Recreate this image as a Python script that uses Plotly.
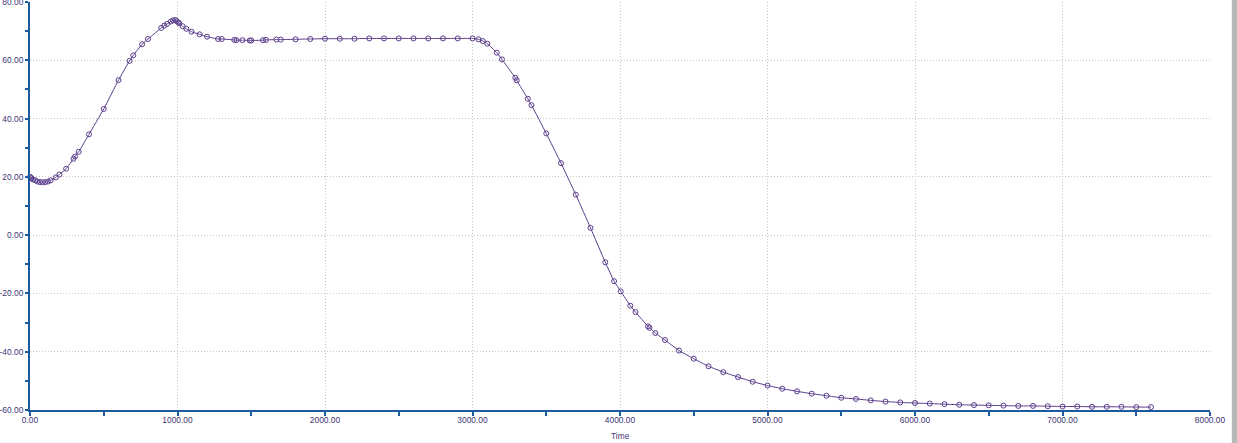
import plotly.graph_objects as go

time = [0, 5, 10, 20, 35, 50, 68, 86, 104, 122, 140, 175, 200, 245, 295, 305, 330, 400, 500, 600,
        675, 700, 760, 800, 890, 910, 930, 955, 970, 985, 995, 1005, 1012, 1035, 1060, 1095, 1150,
        1200, 1275, 1300, 1385, 1400, 1440, 1490, 1500, 1580, 1600, 1670, 1700, 1800, 1900, 2000,
        2100, 2200, 2300, 2400, 2500, 2600, 2700, 2800, 2900, 3000, 3040, 3070, 3100, 3165, 3200,
        3290, 3300, 3375, 3400, 3500, 3600, 3700, 3800, 3900, 3960, 4005, 4070, 4105, 4190, 4200,
        4240, 4305, 4400, 4500, 4600, 4700, 4800, 4900, 5000, 5100, 5200, 5300, 5400, 5500, 5600,
        5700, 5800, 5900, 6000, 6100, 6200, 6300, 6400, 6500, 6600, 6700, 6800, 6900, 7000, 7100,
        7200, 7300, 7400, 7500, 7600]
value = [20.0, 19.8, 19.5, 19.1, 18.8, 18.4, 18.2, 18.1, 18.2, 18.4, 18.8, 19.8, 20.8, 22.8, 26.2,
         27.0, 28.6, 34.6, 43.3, 53.2, 59.8, 61.7, 65.5, 67.3, 71.1, 71.9, 72.5, 73.3, 73.7, 73.8,
         73.4, 73.0, 72.7, 71.7, 70.8, 69.8, 68.9, 68.1, 67.3, 67.3, 67.0, 66.9, 66.9, 66.8, 66.8,
         66.9, 67.0, 67.1, 67.1, 67.2, 67.3, 67.4, 67.4, 67.4, 67.5, 67.5, 67.5, 67.5, 67.5, 67.5,
         67.5, 67.5, 67.2, 66.6, 65.7, 62.6, 60.3, 54.0, 53.1, 46.8, 44.6, 34.9, 24.7, 13.9, 2.5,
         -9.3, -15.8, -19.3, -24.2, -26.4, -31.3, -31.8, -33.6, -36.0, -39.6, -42.4, -45.0, -47.0,
         -48.7, -50.3, -51.6, -52.7, -53.6, -54.4, -55.1, -55.8, -56.2, -56.7, -57.1, -57.4, -57.6,
         -57.8, -58.0, -58.2, -58.3, -58.4, -58.5, -58.6, -58.6, -58.7, -58.8, -58.8, -58.9, -58.9,
         -58.9, -59.0, -59.0]

x_ticks = [0, 1000, 2000, 3000, 4000, 5000, 6000, 7000, 8000]
x_labels = ["0.00", "1000.00", "2000.00", "3000.00", "4000.00", "5000.00", "6000.00", "7000.00", "8000.00"]
y_ticks = [-60, -40, -20, 0, 20, 40, 60, 80]
y_labels = ["-60.00", "-40.00", "-20.00", "0.00", "20.00", "40.00", "60.00", "80.00"]
x_title = "Time"

axis_col = "#1b5a9c"
text_col = "#3c3474"
line_col = "#5a3d8c"
grid_col = "#c6c6c6"
fs = 8.4

fig = go.Figure()
fig.add_trace(go.Scatter(
    x=time, y=value, mode="lines+markers",
    line=dict(color=line_col, width=1, shape="spline", smoothing=0.4),
    marker=dict(symbol="circle-open", size=5, color=line_col, line=dict(width=1, color=line_col)),
    showlegend=False, cliponaxis=False,
))

fig.update_layout(
    width=1237, height=443,
    margin=dict(l=30, r=27, t=2, b=33),
    paper_bgcolor="white", plot_bgcolor="white",
    font=dict(family="Liberation Sans, Arial, sans-serif", size=fs, color=text_col),
)
fig.update_xaxes(
    range=[0, 8000], tickvals=x_ticks, ticktext=x_labels, automargin=False,
    showgrid=True, gridcolor=grid_col, griddash="1px,2px", gridwidth=1,
    showline=True, linecolor=axis_col, linewidth=2,
    ticks="outside", ticklen=4, tickwidth=2, tickcolor=axis_col,
    minor=dict(tickvals=[500, 1500, 2500, 3500, 4500, 5500, 6500, 7500], ticks="outside",
               ticklen=4, tickwidth=2, tickcolor=axis_col, showgrid=False),
    zeroline=False, tickfont=dict(size=fs, color=text_col),
    ticklabelstandoff=-3, ticklabeloverflow="allow",
)
fig.update_yaxes(
    range=[-60, 80], tickvals=y_ticks, ticktext=y_labels, automargin=False,
    showgrid=True, gridcolor=grid_col, griddash="1px,2px", gridwidth=1,
    showline=True, linecolor=axis_col, linewidth=2,
    ticks="outside", ticklen=3, tickwidth=2, tickcolor=axis_col,
    minor=dict(tickvals=[-50, -30, -10, 10, 30, 50, 70], ticks="outside",
               ticklen=3, tickwidth=2, tickcolor=axis_col, showgrid=False),
    zeroline=False, tickfont=dict(size=fs, color=text_col),
    ticklabelstandoff=0, ticklabeloverflow="allow",
)
fig.add_annotation(text=x_title, xref="paper", yref="paper", x=0.5, y=0,
                   xanchor="center", yanchor="top", yshift=-19, showarrow=False,
                   font=dict(size=fs, color=text_col))
# right border of the original window panel
fig.add_shape(type="rect", xref="paper", yref="paper", x0=1.0185, x1=1.03, y0=-1, y1=2,
              fillcolor="#b8b8b8", line=dict(width=0), layer="below")

fig.write_html("out.html", config={"displayModeBar": False},
               post_script="document.body.style.margin='0';")
